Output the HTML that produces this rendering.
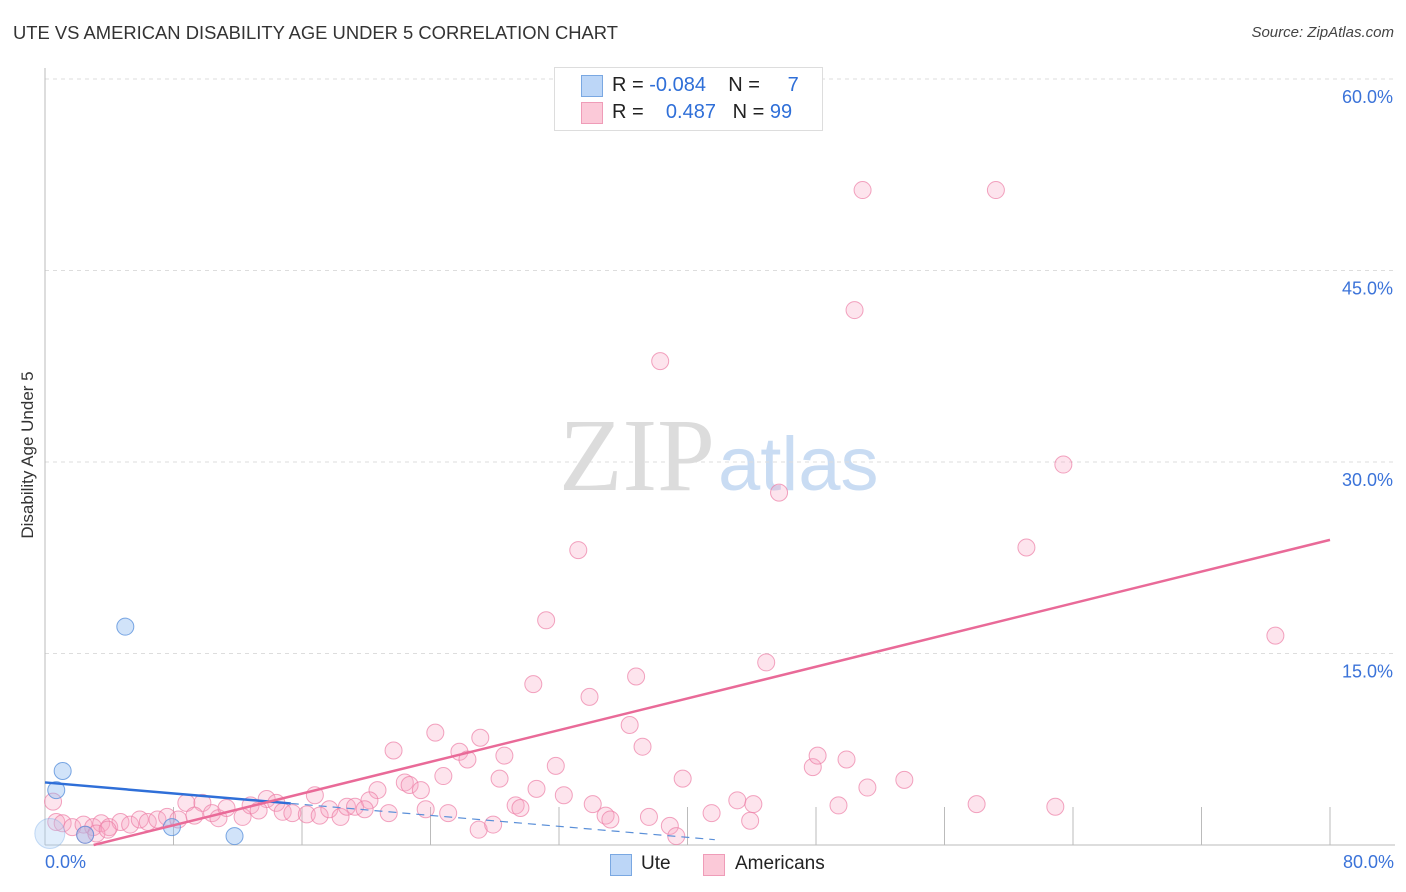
<!DOCTYPE html>
<html><head><meta charset="utf-8">
<style>
body{margin:0;background:#fff;font-family:"Liberation Sans",sans-serif;}
#wrap{position:relative;width:1406px;height:892px;overflow:hidden;}
.t{position:absolute;white-space:nowrap;}
</style></head>
<body><div id="wrap">
<div class="t" style="left:13px;top:22px;font-size:18.4px;color:#333;">UTE VS AMERICAN DISABILITY AGE UNDER 5 CORRELATION CHART</div>
<div class="t" style="right:12px;top:24px;font-size:15px;color:#444;font-style:italic;">Source: ZipAtlas.com</div>
<div class="t" style="left:28px;top:455px;font-size:17px;color:#333;transform:translate(-50%,-50%) rotate(-90deg);">Disability Age Under 5</div>
<svg id="svg" width="1406" height="892" style="position:absolute;left:0;top:0">
<text x="715" y="490" font-family="Liberation Serif,serif" font-size="104" fill="#dcdcdc" text-anchor="end">ZIP</text>
<text x="718" y="490" font-family="Liberation Sans,sans-serif" font-size="76" fill="#c9dcf3">atlas</text>
</svg>
<div style="position:absolute;left:554px;top:67px;width:267px;height:62px;border:1px solid #ddd;background:#fff;"></div>
<div style="position:absolute;left:581px;top:75px;width:20px;height:20px;background:#bcd6f7;border:1px solid #7aa8e2;"></div>
<div style="position:absolute;left:581px;top:102px;width:20px;height:20px;background:#fbc9d8;border:1px solid #ef9cb8;"></div>
<div class="t" style="left:612px;top:74px;font-size:20px;color:#222;">R = <span style="color:#2f6fd8">-0.084</span>&nbsp;&nbsp;&nbsp;&nbsp;N =&nbsp;&nbsp;&nbsp;&nbsp; <span style="color:#2f6fd8">7</span></div>
<div class="t" style="left:612px;top:101px;font-size:20px;color:#222;">R = &nbsp;&nbsp;&nbsp;<span style="color:#2f6fd8">0.487</span>&nbsp;&nbsp;&nbsp;N = <span style="color:#2f6fd8">99</span></div>
<div class="t" style="left:45px;top:852px;font-size:18px;color:#3b73d9;">0.0%</div>
<div class="t" style="right:12px;top:852px;font-size:18px;color:#3b73d9;">80.0%</div>
<div style="position:absolute;left:610px;top:854px;width:20px;height:20px;background:#bcd6f7;border:1px solid #7aa8e2;"></div>
<div class="t" style="left:641px;top:853px;font-size:19px;color:#222;">Ute</div>
<div style="position:absolute;left:703px;top:854px;width:20px;height:20px;background:#fbc9d8;border:1px solid #ef9cb8;"></div>
<div class="t" style="left:735px;top:853px;font-size:19px;color:#222;">Americans</div>
</div>
<script>
const yTicks=[15,30,45,60];
const yTickLabels=["15.0%","30.0%","45.0%","60.0%"];
const xTicks=[8,16,24,32,40,48,56,64,72,80];
const uteX=[5.0,1.1,0.7,7.9,11.8,0.3,2.5];
const uteY=[17.1,5.8,4.3,1.4,0.7,0.9,0.8];
const amX=[50.9,59.2,50.4,38.3,63.4,45.7,33.2,61.1,31.2,76.6,44.9,30.4,36.8,33.9,36.4,24.3,37.2,21.7,25.8,27.1,28.6,26.3,31.8,47.8,48.1,49.9,39.7,53.5,51.2,24.8,28.3,22.4,22.7,23.4,30.6,32.3,16.8,20.7,43.1,44.1,58.0,62.9,49.4,34.1,29.3,29.6,34.9,35.2,37.6,41.5,43.9,27.0,27.9,38.9,39.3,23.7,25.1,20.2,21.4,13.8,14.4,14.8,15.4,16.3,17.1,17.7,18.4,18.8,19.3,19.9,8.8,9.8,9.3,10.4,10.8,11.3,12.3,12.8,13.3,0.5,0.7,1.1,1.7,2.4,3.0,3.5,4.0,4.7,5.3,5.9,6.4,7.0,7.6,2.5,3.2,3.9,8.3,36.0];
const amY=[51.3,51.3,41.9,37.9,29.8,27.6,23.1,23.3,17.6,16.4,14.3,12.6,13.2,11.6,9.4,8.8,7.7,7.4,7.3,8.4,7.0,6.7,6.2,6.1,7.0,6.7,5.2,5.1,4.5,5.4,5.2,4.9,4.7,4.3,4.4,3.9,3.9,4.3,3.5,3.2,3.2,3.0,3.1,3.2,3.1,2.9,2.3,2.0,2.2,2.5,1.9,1.2,1.6,1.5,0.7,2.8,2.5,3.5,2.5,3.6,3.3,2.6,2.5,2.4,2.3,2.8,2.2,3.0,3.0,2.8,3.3,3.3,2.3,2.5,2.1,2.9,2.2,3.1,2.7,3.4,1.8,1.7,1.4,1.6,1.4,1.7,1.4,1.8,1.6,2.0,1.8,2.0,2.2,0.8,0.9,1.2,2.0,57.1];
const uteTrend=[4.9,-3.7];
const amTrend=[-0.94,23.9];
const X=v=>45+v*16.0625, Y=v=>845-v*12.767;
const svg=document.getElementById('svg');const NS='http://www.w3.org/2000/svg';
function mk(t,a){const e=document.createElementNS(NS,t);for(const k in a)e.setAttribute(k,a[k]);svg.appendChild(e);return e;}
yTicks.forEach((v,i)=>{
 const g=mk('line',{x1:45,x2:1395,y1:Y(v),y2:Y(v),stroke:'#ddd','stroke-dasharray':'4,4'});
 
 
 const t=mk('text',{x:1393,y:Y(v)+24,'text-anchor':'end','font-size':18,fill:'#3b73d9','font-family':'Liberation Sans,sans-serif'});
 t.textContent=yTickLabels[i];
 
 
});
const ax=mk('line',{x1:45,x2:45,y1:68,y2:845,stroke:'#bbb'});


const bx=mk('line',{x1:45,x2:1395,y1:845,y2:845,stroke:'#bbb'});


xTicks.forEach(v=>{const t=mk('line',{x1:X(v),x2:X(v),y1:807,y2:845,stroke:'#bbb'});
 
 });
amX.forEach((v,i)=>{const c=mk('circle',{cx:X(v),cy:Y(amY[i]),r:8.5,fill:'rgba(247,165,195,0.3)',stroke:'rgba(236,125,165,0.7)','stroke-width':1});
 
 });
uteX.forEach((v,i)=>{const c=mk('circle',{cx:X(v),cy:Y(uteY[i]),r:i==5?15:8.5,fill:i==5?'rgba(170,205,245,0.35)':'rgba(140,185,240,0.4)',stroke:i==5?'rgba(120,170,230,0.4)':'rgba(90,145,220,0.8)','stroke-width':1});
 
 });
const uy=v=>uteTrend[0]+(uteTrend[1]-uteTrend[0])*v/80;
const u1=mk('line',{x1:X(0),y1:Y(uy(0)),x2:X(15.3),y2:Y(uy(15.3)),stroke:'#2f6fd8','stroke-width':2.5});


const u2=mk('line',{x1:X(15.3),y1:Y(uy(15.3)),x2:X(41.7),y2:Y(uy(41.7)),stroke:'#5a8fd8','stroke-width':1.2,'stroke-dasharray':'8,6'});


const ay=v=>amTrend[0]+(amTrend[1]-amTrend[0])*v/80;
const x0=-amTrend[0]*80/(amTrend[1]-amTrend[0]);
const a1=mk('line',{x1:X(x0),y1:Y(0),x2:X(80),y2:Y(ay(80)),stroke:'#e96a98','stroke-width':2.5});


</script>
</body></html>
